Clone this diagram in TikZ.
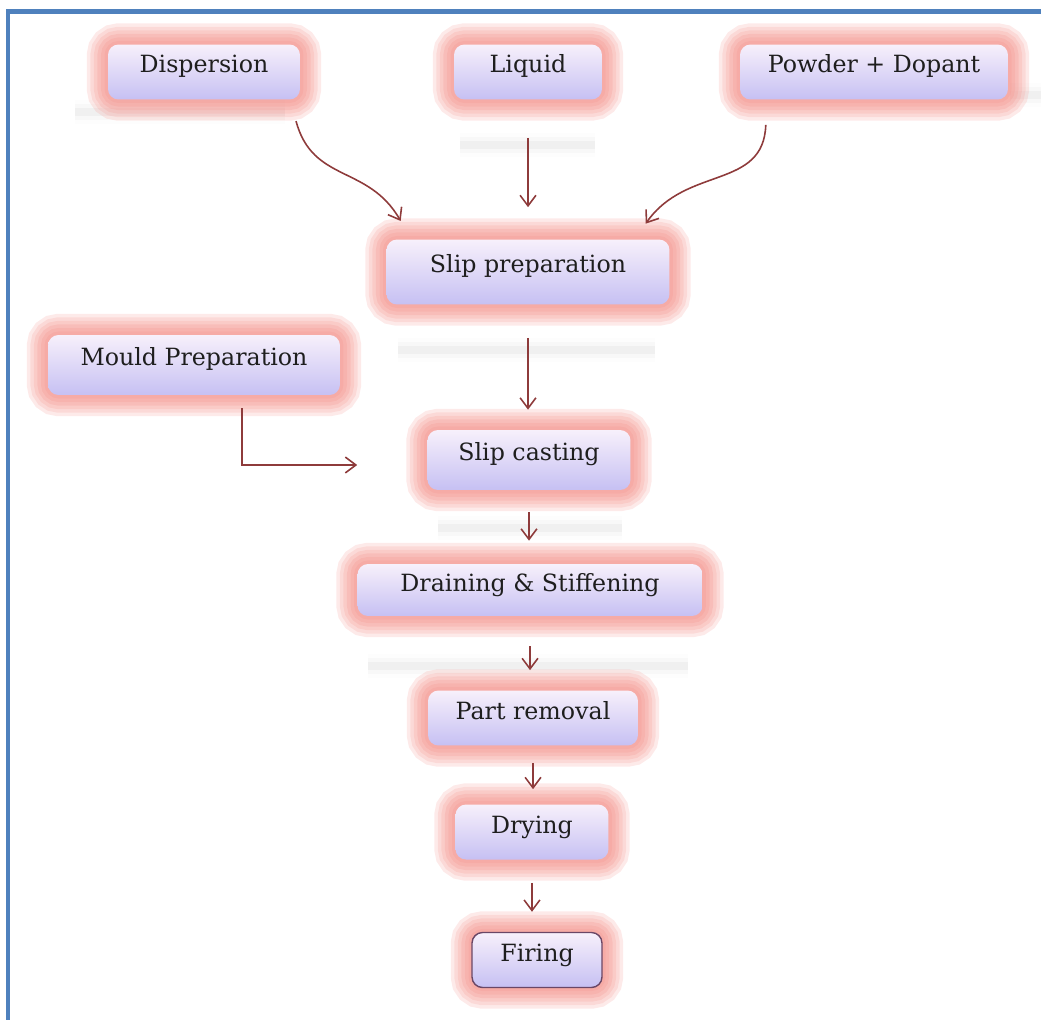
\documentclass[tikz,border=0pt]{standalone}
\usepackage{fontspec}
\setmainfont{DejaVu Serif}
\usetikzlibrary{positioning,arrows.meta,calc}
\definecolor{frame}{HTML}{4F81BD}
\definecolor{glow}{HTML}{F59F99}
\definecolor{lavtop}{HTML}{F7F0FB}
\definecolor{lavbot}{HTML}{C6C0F3}
\definecolor{wine}{HTML}{8E3B3B}
\definecolor{ink}{HTML}{1E1E1E}
\definecolor{plum}{HTML}{6A4766}
\tikzset{
  stage/.style={rounded corners=6pt, top color=lavtop, bottom color=lavbot,
    text=ink, font=\fontsize{13.5pt}{16pt}\selectfont, inner sep=0pt,
    text height=0.4cm, text depth=0.36cm,
    preaction={draw=glow, line width=24pt, opacity=0.22},
    preaction={draw=glow, line width=20pt, opacity=0.22},
    preaction={draw=glow, line width=16pt, opacity=0.25},
    preaction={draw=glow, line width=12pt, opacity=0.3},
    preaction={draw=glow, line width=8pt, opacity=0.35},
    preaction={draw=glow, line width=4pt, opacity=0.4}},
  picked/.style={draw=plum, line width=0.8pt},
  arr/.style={-{Straight Barb[length=6pt,width=9pt]}, line width=0.9pt, draw=wine},
  haze/.style={draw=black!20, line width=4pt, opacity=0.18,
    preaction={draw=black!15, line width=9pt, opacity=0.12},
    preaction={draw=black!10, line width=14pt, opacity=0.08}},
}
\begin{document}
\begin{tikzpicture}[x=0.02cm, y=-0.02cm]
  \useasboundingbox (0,0) rectangle (1041,1020);
  % soft shadows under some boxes
  \draw[haze] (75,112) -- (285,112);
  \draw[haze] (460,145) -- (595,145);
  \draw[haze] (1010,95) -- (1041,95);
  \draw[haze] (398,350) -- (655,350);
  \draw[haze] (438,528) -- (622,528);
  \draw[haze] (368,666) -- (688,666);
  \draw[frame, line width=2.3pt] (8,1020) -- (8,11.5) -- (1041,11.5);

  \node[stage, minimum width=3.84cm, minimum height=1.1cm] (disp) at (204,72) {Dispersion};
  \node[stage, minimum width=2.96cm, minimum height=1.1cm] (liquid) at (528,72) {Liquid};
  \node[stage, minimum width=5.36cm, minimum height=1.1cm] (powder) at (874,72) {Powder + Dopant};
  \node[stage, minimum width=5.66cm, minimum height=1.3cm] (sprep) at (528,272) {Slip preparation};
  \node[stage, minimum width=5.84cm, minimum height=1.2cm] (mould) at (194,365) {Mould Preparation};
  \node[stage, minimum width=4.06cm, minimum height=1.2cm] (scast) at (529,460) {Slip casting};
  \node[stage, minimum width=6.9cm, minimum height=1.04cm] (drain) at (530,590) {Draining \& Stiffening};
  \node[stage, minimum width=4.2cm, minimum height=1.1cm] (part) at (533,718) {Part removal};
  \node[stage, minimum width=3.06cm, minimum height=1.1cm] (drying) at (532,832) {Drying};
  \node[stage, picked, minimum width=2.6cm, minimum height=1.1cm] (firing) at (537,960) {Firing};

  \draw[arr, shorten <=0.44cm, shorten >=0.42cm] ([xshift=-0.2cm]disp.south east)
    to[out=-75, in=120, looseness=1.2] ([xshift=0.5cm]sprep.north west);
  \draw[arr, shorten <=0.5cm, shorten >=0.38cm] ([xshift=0.54cm]powder.south west)
    to[out=-92, in=55, looseness=1.2] ([xshift=-0.7cm]sprep.north east);
  \draw[arr, shorten <=0.76cm, shorten >=0.64cm] (liquid.south) -- (liquid.south |- sprep.north);
  \draw[arr, shorten <=0.66cm, shorten >=0.4cm] (sprep.south) -- (sprep.south |- scast.north);
  \draw[arr, shorten <=0.26cm, shorten >=1.4cm] ([xshift=0.96cm]mould.south) |- ([yshift=-0.1cm]scast.west);
  \draw[arr, shorten <=0.44cm, shorten >=0.46cm] (scast.south) -- (scast.south |- drain.north);
  \draw[arr, shorten <=0.6cm, shorten >=0.4cm] (drain.south) -- (drain.south |- part.north);
  \draw[arr, shorten <=0.34cm, shorten >=0.3cm] (part.south) -- (part.south |- drying.north);
  \draw[arr, shorten <=0.46cm, shorten >=0.4cm] (drying.south) -- (drying.south |- firing.north);
\end{tikzpicture}
\end{document}
